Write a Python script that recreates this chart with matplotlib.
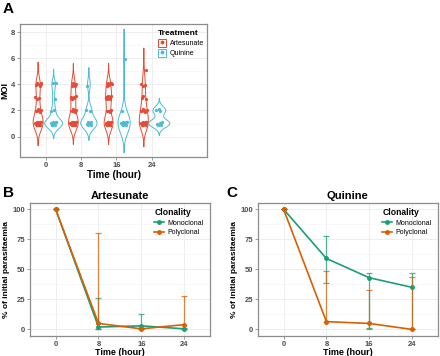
import matplotlib.pyplot as plt
import numpy as np
from matplotlib.lines import Line2D
from matplotlib.patches import Patch

plt.rcParams['font.family'] = ['Liberation Sans', 'DejaVu Sans']

# ---- data -------------------------------------------------------------
times = ['0', '8', '16', '24']
treatments = ['Artesunate', 'Quinine']
treat_colors = ['#E64B35', '#4DBBD5']

# MOI of each sample, per time point
moi_artesunate = [
    [1] * 14 + [2] * 5 + [3] * 3 + [4] * 6,
    [1] * 14 + [2] * 5 + [3] * 6 + [4] * 5,
    [1] * 14 + [2] * 4 + [3] * 8 + [4] * 6,
    [1] * 10 + [2] * 6 + [3] * 3 + [4] * 3 + [5] * 1,
]
moi_quinine = [
    [1] * 10 + [2] * 2 + [3] * 1 + [4] * 2,
    [1] * 6 + [2] * 2 + [4] * 1,
    [1] * 11 + [2] * 1 + [6] * 1,
    [1] * 5 + [2] * 3,
]

clonality = ['Monoclonal', 'Polyclonal']
clon_colors = ['#1B9E77', '#D95F02']

# % of initial parasitaemia (mean, lower, upper)
art_mono = [100, 2, 3, 0.5]
art_mono_lo = [100, 0, 0, 0]
art_mono_hi = [100, 26, 13, 1.5]
art_poly = [100, 5, 0.5, 4]
art_poly_lo = [100, 0, 0, 0]
art_poly_hi = [100, 80, 1, 28]

qui_mono = [100, 59, 43, 35]
qui_mono_lo = [100, 39, 1.5, 0]
qui_mono_hi = [100, 78, 47, 47]
qui_poly = [100, 6.5, 5, 0]
qui_poly_lo = [100, 5.8, 0, 0]
qui_poly_hi = [100, 49, 33, 43.5]


def bw_nrd0(x):
    x = np.asarray(x, float)
    hi = np.std(x, ddof=1)
    q75, q25 = np.percentile(x, [75, 25])
    lo = min(hi, (q75 - q25) / 1.34)
    if lo == 0:
        lo = hi if hi > 0 else 1.0
    return 0.9 * lo * len(x) ** -0.2


def kde(x):
    x = np.asarray(x, float)
    bw = bw_nrd0(x)
    yy = np.linspace(x.min() - 3 * bw, x.max() + 3 * bw, 300)
    dens = np.exp(-0.5 * ((yy[:, None] - x[None, :]) / bw) ** 2).sum(1)
    dens /= len(x) * bw * np.sqrt(2 * np.pi)
    return yy, dens


def style_axes(ax):
    ax.set_facecolor('white')
    for s in ax.spines.values():
        s.set_color('#8C8C8C')
        s.set_linewidth(0.9)
    ax.grid(True, which='major', color='#EBEBEB', lw=0.6)
    ax.grid(True, which='minor', color='#F4F4F4', lw=0.4)
    ax.set_axisbelow(True)
    ax.tick_params(length=2, width=0.6, color='#8C8C8C', labelsize=5.5,
                   labelcolor='#4D4D4D', pad=1.5)
    for lab in ax.get_xticklabels() + ax.get_yticklabels():
        lab.set_fontweight('bold')


fig = plt.figure(figsize=(4.4, 3.56), dpi=100)
fig.patch.set_facecolor('white')

# ---- panel A: violins ------------------------------------------------
axA = fig.add_axes([0.045, 0.559, 0.426, 0.373])
dodge = [-0.22, 0.22]
groups = [moi_artesunate, moi_quinine]
curves = []
for k, grp in enumerate(groups):
    for i, vals in enumerate(grp):
        yy, d = kde(vals)
        curves.append((k, i, yy, d, vals))
dmax = max(c[3].max() for c in curves)
for k, i, yy, d, vals in curves:
    pos = i + dodge[k]
    w = d / dmax * 0.3
    axA.fill_betweenx(yy, pos - w, pos + w, facecolor='none',
                      edgecolor=treat_colors[k], lw=0.7, zorder=2)
    n = len(vals)
    idx = np.arange(n)
    jx = ((idx * 0.618034 + 0.31) % 1 - 0.5) * 0.17
    jy = ((idx * 0.754878 + 0.17) % 1 - 0.5) * 0.3
    axA.scatter(pos + jx, np.asarray(vals) + jy, s=5.5, color=treat_colors[k],
                lw=0, zorder=3)

axA.set_xlim(-0.74, 4.58)
axA.set_ylim(-1.57, 8.62)
axA.set_xticks(range(len(times)))
axA.set_xticklabels(times)
axA.set_yticks([0, 2, 4, 6, 8])
axA.set_yticks([1, 3, 5, 7], minor=True)
axA.tick_params(which='minor', length=0)
style_axes(axA)
axA.set_xlabel('Time (hour)', fontsize=7, fontweight='bold', labelpad=0.5)
axA.set_ylabel('MOI', fontsize=6.5, fontweight='bold', labelpad=1)

handles = [(Patch(facecolor='white', edgecolor=c, lw=0.7),
            Line2D([], [], marker='o', ls='', color=c, ms=1.8))
           for c in treat_colors]
legA = axA.legend(handles, treatments, loc='upper left',
                  bbox_to_anchor=(0.71, 0.99), frameon=False, fontsize=5,
                  title='Treatment', handlelength=1.2, handleheight=1.2,
                  labelspacing=0.3, handletextpad=0.5, borderpad=0.2,
                  alignment='left')
legA.get_title().set_fontsize(6)
legA.get_title().set_fontweight('bold')


# ---- panels B and C: parasitaemia ----------------------------------
def draw_curve(ax, title, series):
    x = np.arange(len(times))
    for (mean, lo, hi), c, lab in zip(series, clon_colors, clonality):
        mean = np.asarray(mean, float)
        err = [mean - np.asarray(lo), np.asarray(hi) - mean]
        ax.errorbar(x, mean, yerr=err, fmt='none', ecolor=c, elinewidth=0.9,
                    capsize=2.2, capthick=0.9, alpha=0.75, zorder=2)
        ax.plot(x, mean, color=c, lw=1.2, marker='o', ms=2.5, label=lab,
                zorder=3)
    ax.set_xlim(-0.6, 3.6)
    ax.set_ylim(-5.5, 105.2)
    ax.set_xticks(x)
    ax.set_xticklabels(times)
    ax.set_yticks([0, 25, 50, 75, 100])
    ax.set_yticks([12.5, 37.5, 62.5, 87.5], minor=True)
    ax.tick_params(which='minor', length=0)
    style_axes(ax)
    ax.set_title(title, fontsize=8, fontweight='bold', pad=3)
    ax.set_xlabel('Time (hour)', fontsize=6.5, fontweight='bold', labelpad=0)
    ax.set_ylabel('% of initial parasitaemia', fontsize=6,
                  fontweight='bold', labelpad=1.5)
    leg = ax.legend(loc='upper left', bbox_to_anchor=(0.66, 1.0),
                    frameon=False, fontsize=5, title='Clonality',
                    handlelength=1.4, labelspacing=0.35, handletextpad=0.5,
                    borderpad=0.3, alignment='left')
    leg.get_title().set_fontsize(6.2)
    leg.get_title().set_fontweight('bold')


axB = fig.add_axes([0.068, 0.056, 0.409, 0.374])
draw_curve(axB, 'Artesunate', [(art_mono, art_mono_lo, art_mono_hi),
                               (art_poly, art_poly_lo, art_poly_hi)])
axC = fig.add_axes([0.586, 0.056, 0.409, 0.374])
draw_curve(axC, 'Quinine', [(qui_mono, qui_mono_lo, qui_mono_hi),
                            (qui_poly, qui_poly_lo, qui_poly_hi)])

fig.text(0.006, 0.995, 'A', fontsize=11, fontweight='bold', va='top')
fig.text(0.006, 0.478, 'B', fontsize=11, fontweight='bold', va='top')
fig.text(0.515, 0.478, 'C', fontsize=11, fontweight='bold', va='top')

fig.savefig('out.png', dpi=100, facecolor='white')
